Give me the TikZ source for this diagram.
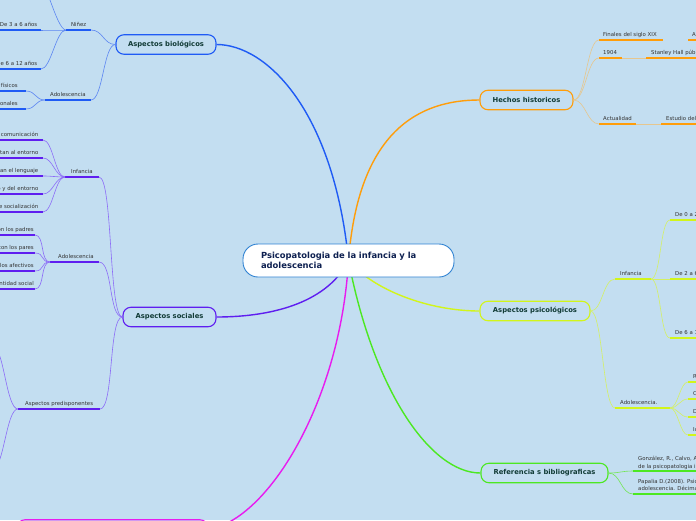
\documentclass[tikz,border=0pt]{standalone}
\usepackage{fontspec}
\setmainfont{DejaVu Sans}

\definecolor{fondo}{HTML}{C3DEF1}
\definecolor{azul}{HTML}{1F5BF5}
\definecolor{azulc}{HTML}{5C86F2}
\definecolor{morado}{HTML}{5F1EF0}
\definecolor{moradoc}{HTML}{8C6CF7}
\definecolor{naranja}{HTML}{FF9D0A}
\definecolor{naranjac}{HTML}{E6C68E}
\definecolor{lima}{HTML}{D2F51A}
\definecolor{limac}{HTML}{D4F064}
\definecolor{verde}{HTML}{4CE822}
\definecolor{verdec}{HTML}{72E652}
\definecolor{rosa}{HTML}{E81CEF}
\definecolor{bordeRaiz}{HTML}{2F82D2}
\definecolor{textotema}{HTML}{113B36}
\definecolor{textoraiz}{HTML}{0E2050}
\definecolor{textosub}{HTML}{333333}

\begin{document}
\begin{tikzpicture}[x=1pt,y=-1pt,
	tema/.style={draw=#1, line width=1.1pt, rounded corners=8pt, fill=fondo, text=textotema,
		font=\fontsize{6.8}{8}\selectfont\bfseries, minimum height=19.5pt, inner sep=0pt},
	etiq/.style={font=\fontsize{5.4}{7.5}\selectfont, text=textosub, inner sep=0pt, anchor=base west},
	etiqd/.style={etiq, anchor=base east},
	linea/.style={draw=#1, line width=1.8pt},
	enlace/.style={draw=#1, line width=0.6pt},
	rama/.style={draw=#1, line width=1.4pt},
	izq/.style={out=180, in=0, distance=#1}, izq/.default=10pt,
	der/.style={out=0, in=180, distance=#1}, der/.default=10pt]
	\useasboundingbox (0,0) rectangle (696,520);
	\fill[fondo] (0,0) rectangle (696,520);

	% temas principales
	\node[tema=azul, minimum width=100pt] (bio) at (166,44.5) {Aspectos biológicos};
	\node[tema=morado, minimum width=93pt] (soc) at (169.5,317) {Aspectos sociales};
	\node[tema=naranja, minimum width=93pt] (hist) at (526.5,100) {Hechos historicos};
	\node[tema=lima, minimum width=110pt] (psi) at (535,311) {Aspectos psicológicos};
	\node[tema=verde, minimum width=127pt] (ref) at (544.5,473) {Referencia s bibliograficas};
	\node[tema=rosa, minimum width=191pt] (otro) at (112.5,529.5) {};

	\coordinate (centro) at (348.5,260.5);
	\draw[rama=azul] (centro) .. controls +(-15,-150) and +(50,0) .. (bio.east);
	\draw[rama=naranja] (centro) .. controls +(10,-130) and +(-60,0) .. (hist.west);
	\draw[rama=morado] (centro) .. controls +(-20,40) and +(60,0) .. (soc.east);
	\draw[rama=lima] (centro) .. controls +(25,30) and +(-50,0) .. (psi.west);
	\draw[rama=verde] (centro) .. controls +(25,130) and +(-50,0) .. (ref.west);
	\draw[rama=rosa] (centro) .. controls +(-8,140) and +(60,-10) .. (otro.east);
	\node[draw=bordeRaiz, line width=0.9pt, fill=white, rounded corners=15pt, minimum width=211pt,
		minimum height=33pt, text width=175pt, align=left, text=textoraiz,
		font=\fontsize{8.4}{10.5}\selectfont\bfseries] (raiz) at (centro)
		{Psicopatologia de la infancia y la adolescencia};

	% aspectos biologicos
	\coordinate (nin-l) at (66,30); \coordinate (nin-r) at (91,30);
	\draw[linea=azul] (nin-l) -- (nin-r);
	\node[etiq] (nin) at (71,26.5) {Niñez};
	\draw[enlace=azulc] (bio.west) to[izq=12pt] (nin-r);
	\coordinate (nin0) at (34,-30);
	\draw[enlace=azulc] (nin-l) to[izq] (nin0);
	\foreach \yy/\txt [count=\i] in {30/De 3 a 6 años, 69/De 6 a 12 años}{
		\coordinate (nin\i) at (41,\yy);
		\draw[linea=azul] (-5,\yy) -- (nin\i);
		\node[etiqd] (nin\i-t) at (37.5,\yy-3.5) {\txt};
		\draw[enlace=azulc] (nin-l) to[izq] (nin\i);
	}
	\coordinate (ado-l) at (45,100); \coordinate (ado-r) at (91,100);
	\draw[linea=azul] (ado-l) -- (ado-r);
	\node[etiq] (ado) at (50,96.5) {Adolescencia};
	\draw[enlace=azulc] (bio.west) to[izq=12pt] (ado-r);
	\foreach \yy/\txt [count=\i] in {91/Cambios físicos, 109/Cambios emocionales}{
		\coordinate (ado\i) at (26,\yy);
		\draw[linea=azul] (-5,\yy) -- (ado\i);
		\node[etiqd] (ado\i-t) at (18,\yy-3.5) {\txt};
		\draw[enlace=azulc] (ado-l) to[izq] (ado\i);
	}

	% aspectos sociales
	\coordinate (sin-l) at (65,177); \coordinate (sin-r) at (99,177);
	\draw[linea=morado] (sin-l) -- (sin-r);
	\node[etiq] (sin) at (71,173.5) {Infancia};
	\draw[enlace=moradoc] (soc.west) to[izq=14pt] (sin-r);
	\foreach \yy/\txt [count=\i] in {140/la comunicación, 158/Se adaptan al entorno,
		176/Desarrollan el lenguaje, 194/Conocimiento de sí mismo y del entorno, 212/Proceso de socialización}{
		\coordinate (sin\i) at (43,\yy);
		\draw[linea=morado] (-5,\yy) -- (sin\i);
		\node[etiqd] (sin\i-t) at (38.5,\yy-3.5) {\txt};
		\draw[enlace=moradoc] (sin-l) to[izq] (sin\i);
	}
	\coordinate (sad-l) at (50,262); \coordinate (sad-r) at (99,262);
	\draw[linea=morado] (sad-l) -- (sad-r);
	\node[etiq] (sad) at (58,258.5) {Adolescencia};
	\draw[enlace=moradoc] (soc.west) to[izq=14pt] (sad-r);
	\foreach \yy/\txt [count=\i] in {235/con los padres, 253/con los pares,
		271/Vínculos afectivos, 289/Identidad social}{
		\coordinate (sad\i) at (35,\yy);
		\draw[linea=morado] (-5,\yy) -- (sad\i);
		\node[etiqd] (sad\i-t) at (34,\yy-3.5) {\txt};
		\draw[enlace=moradoc] (sad-l) to[izq] (sad\i);
	}
	\coordinate (pre-l) at (18,409); \coordinate (pre-r) at (100,409);
	\draw[linea=morado] (pre-l) -- (pre-r);
	\node[etiq] (pre) at (25,405.5) {Aspectos predisponentes};
	\draw[enlace=moradoc] (soc.west) to[izq=14pt] (pre-r);
	\coordinate (pre1) at (-8,345); \coordinate (pre2) at (-8,470);
	\draw[enlace=moradoc] (pre-l) to[izq=12pt] (pre1);
	\draw[enlace=moradoc] (pre-l) to[izq=12pt] (pre2);

	% hechos historicos
	\coordinate (fin-l) at (599,40); \coordinate (fin-r) at (663,40);
	\draw[linea=naranja] (fin-l) -- (fin-r);
	\node[etiq] (fin) at (603,36.5) {Finales del siglo XIX};
	\coordinate (fin2-l) at (688,40);
	\draw[linea=naranja] (fin2-l) -- (705,40);
	\node[etiq] (fin2) at (692,36.5) {Aparece el interés};
	\coordinate (ani-l) at (599,58); \coordinate (ani-r) at (622,58);
	\draw[linea=naranja] (ani-l) -- (ani-r);
	\node[etiq] (ani) at (603,54.5) {1904};
	\coordinate (ani2-l) at (646,58);
	\draw[linea=naranja] (ani2-l) -- (705,58);
	\node[etiq] (ani2) at (651,54.5) {Stanley Hall pública};
	\draw[enlace=naranjac] (ani-r) -- (ani2-l);
	\coordinate (act-l) at (599,124); \coordinate (act-r) at (636,124);
	\draw[linea=naranja] (act-l) -- (act-r);
	\node[etiq] (act) at (603,120.5) {Actualidad};
	\coordinate (act2-l) at (661,124);
	\draw[linea=naranja] (act2-l) -- (705,124);
	\node[etiq] (act2) at (666,120.5) {Estudio del desarrollo};
	\draw[enlace=naranjac] (act-r) -- (act2-l);
	\foreach \c in {fin-l, ani-l, act-l}
		\draw[enlace=naranjac] (hist.east) to[der=12pt] (\c);

	% aspectos psicologicos
	\coordinate (pin-l) at (615,279); \coordinate (pin-r) at (651,279);
	\draw[linea=lima] (pin-l) -- (pin-r);
	\node[etiq] (pin) at (620,275.5) {Infancia};
	\draw[enlace=limac] (psi.east) to[der=12pt] (pin-l);
	\foreach \yy/\txt [count=\i] in {220/De 0 a 2 años, 279/De 2 a 6 años, 338/De 6 a 12 años}{
		\coordinate (pin\i) at (670,\yy);
		\draw[linea=lima] (pin\i) -- (705,\yy);
		\node[etiq] (pin\i-t) at (675,\yy-3.5) {\txt};
		\draw[enlace=limac] (pin-r) to[der] (pin\i);
	}
	\coordinate (pad-l) at (615,408); \coordinate (pad-r) at (670,408);
	\draw[linea=lima] (pad-l) -- (pad-r);
	\node[etiq] (pad) at (620,404.5) {Adolescencia.};
	\draw[enlace=limac] (psi.east) to[der=12pt] (pad-l);
	\foreach \yy/\txt [count=\i] in {382/Relaciones, 399/Cambios, 417/Desarrollo, 435/Identidad}{
		\coordinate (pad\i) at (688,\yy);
		\draw[linea=lima] (pad\i) -- (705,\yy);
		\node[etiq] (pad\i-t) at (693,\yy-3.5) {\txt};
		\draw[enlace=limac] (pad-r) to[der=8pt] (pad\i);
	}

	% referencias
	\coordinate (gon-l) at (633,471); \coordinate (pap-l) at (633,494);
	\draw[linea=verde] (gon-l) -- (705,471);
	\draw[linea=verde] (pap-l) -- (705,494);
	\node[etiq, anchor=south west, align=left] (gon) at (638,469.5)
		{González, R., Calvo, A.,\\de la psicopatologia infantil};
	\node[etiq, anchor=south west, align=left] (pap) at (638,491)
		{Papalia D.(2008). Psicología del desarrollo\\adolescencia. Décima edición};
	\draw[enlace=verdec] (ref.east) to[der=12pt] (gon-l);
	\draw[enlace=verdec] (ref.east) to[der=12pt] (pap-l);
\end{tikzpicture}
\end{document}
